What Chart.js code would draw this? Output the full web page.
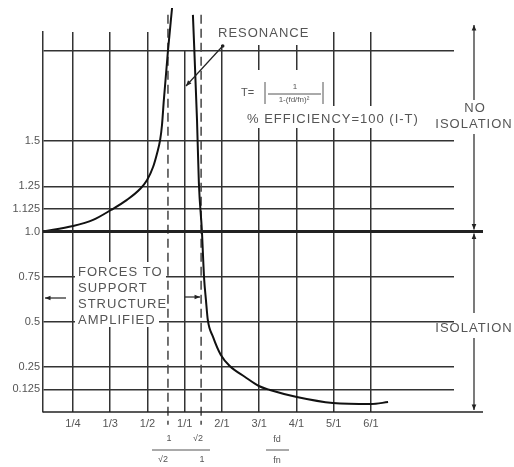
<!DOCTYPE html>
<html>
<head>
<meta charset="utf-8">
<script src="https://cdn.jsdelivr.net/npm/chart.js@4.4.0/dist/chart.umd.min.js"></script>
<style>
  html, body { margin: 0; padding: 0; background: #fff; }
  #wrap { width: 514px; height: 467px; }
</style>
</head>
<body>
<div id="wrap"><canvas id="transChart" width="514" height="467"></canvas></div>
<script>
// frequency ratio fd/fn, one grid column per label
const ratioLabels = ['1/4', '1/3', '1/2', '1/1', '2/1', '3/1', '4/1', '5/1', '6/1'];
// transmissibility grid lines
const tValues = [0.125, 0.25, 0.5, 0.75, 1.0, 1.125, 1.25, 1.5, 2.0];
const tLabels = ['0.125', '0.25', '0.5', '0.75', '1.0', '1.125', '1.25', '1.5', ''];

// curve below resonance (forces amplified), x measured in grid columns
const belowX = [-0.8, 0, 0.54, 1.02, 1.45, 1.8, 1.99, 2.15, 2.26, 2.34, 2.39, 2.44, 2.55, 2.66];
const belowT = [1.0, 1.03, 1.064, 1.119, 1.175, 1.235, 1.285, 1.357, 1.435, 1.507, 1.59, 1.729, 2.0, 2.238];
// curve above resonance (isolation)
const aboveX = [3.22, 3.33, 3.38, 3.46, 3.52, 3.57, 3.62, 3.76, 3.97, 4.21, 4.62, 4.99, 5.29, 6.01, 6.98, 8.0, 8.46];
const aboveT = [2.2, 1.618, 1.269, 1.008, 0.742, 0.62, 0.51, 0.416, 0.316, 0.255, 0.194, 0.144, 0.122, 0.083, 0.05, 0.044, 0.055];

// dashed limits at fd/fn = 1/√2 and √2/1
const limitX = [2.55, 3.44];
const limitT = [2.2, -0.07];

const FONT = '"Liberation Sans", Arial, sans-serif';
const INK = '#222';
const GREY = '#555';

function toPoints(xs, ys) {
  return xs.map((x, i) => ({ x: x, y: ys[i] }));
}

function arrow(ctx, x1, y1, x2, y2, size) {
  ctx.beginPath();
  ctx.moveTo(x1, y1);
  ctx.lineTo(x2, y2);
  ctx.stroke();
  const a = Math.atan2(y2 - y1, x2 - x1);
  ctx.beginPath();
  ctx.moveTo(x2, y2);
  ctx.lineTo(x2 - size * Math.cos(a - 0.4), y2 - size * Math.sin(a - 0.4));
  ctx.lineTo(x2 - size * Math.cos(a + 0.4), y2 - size * Math.sin(a + 0.4));
  ctx.closePath();
  ctx.fill();
}

function text(ctx, str, x, y, size, align, spacing) {
  ctx.font = size + 'px ' + FONT;
  ctx.letterSpacing = (spacing || 0) + 'px';
  ctx.textAlign = align || 'left';
  ctx.textBaseline = 'middle';
  ctx.fillText(str, x, y);
  ctx.letterSpacing = '0px';
}

const notes = {
  id: 'notes',
  beforeDatasetsDraw(chart) {
    const ctx = chart.ctx;
    ctx.save();
    ctx.fillStyle = '#fff';
    // breaks in the grid behind the lettering
    [[215, 22, 100, 23], [181, 30, 9, 20], [238, 70, 92, 36], [244, 106, 178, 22],
     [75, 262, 91, 54], [75, 314, 84, 13]].forEach(r => ctx.fillRect(r[0], r[1], r[2], r[3]));
    ctx.restore();
  },
  afterDatasetsDraw(chart) {
    const ctx = chart.ctx;
    const xs = chart.scales.x, ys = chart.scales.y;
    const area = chart.chartArea;
    const y1 = ys.getPixelForValue(1), y0 = ys.getPixelForValue(0);
    const rx = 474;
    ctx.save();
    ctx.strokeStyle = INK;
    ctx.fillStyle = INK;

    // heavy T = 1 line and base line
    ctx.lineWidth = 3;
    ctx.beginPath(); ctx.moveTo(area.left, y1); ctx.lineTo(483, y1); ctx.stroke();
    ctx.lineWidth = 1.5;
    ctx.beginPath(); ctx.moveTo(area.left, y0); ctx.lineTo(483, y0); ctx.stroke();

    // right hand range arrows
    ctx.lineWidth = 1.2;
    arrow(ctx, rx, 100, rx, 25, 6);
    arrow(ctx, rx, 134, rx, y1 - 2, 6);
    arrow(ctx, rx, 313, rx, y1 + 2, 6);
    arrow(ctx, rx, 338, rx, y0 - 2, 6);

    // resonance pointer
    arrow(ctx, xs.getPixelForValue(4.02), 46, 186, 86, 6);
    ctx.beginPath(); ctx.arc(xs.getPixelForValue(4.02), 46, 1.8, 0, Math.PI * 2); ctx.fill();

    // amplified range arrows
    arrow(ctx, 66, 298, 45, 298, 6);
    arrow(ctx, 185, 297, xs.getPixelForValue(limitX[1]) - 1, 297, 6);

    ctx.fillStyle = GREY;
    text(ctx, 'RESONANCE', 218, 33, 13, 'left', 1);
    text(ctx, 'NO', rx + 1, 108, 13, 'center', 1);
    text(ctx, 'ISOLATION', rx, 124, 13, 'center', 1);
    text(ctx, 'ISOLATION', rx, 328, 13, 'center', 1);
    ['FORCES TO', 'SUPPORT', 'STRUCTURE', 'AMPLIFIED'].forEach((s, i) => text(ctx, s, 78, 272 + i * 16, 13, 'left', 1));

    // formula
    text(ctx, 'T=', 241, 93, 11);
    ctx.strokeStyle = GREY;
    ctx.lineWidth = 1;
    ctx.beginPath();
    ctx.moveTo(265, 82); ctx.lineTo(265, 104);
    ctx.moveTo(323, 82); ctx.lineTo(323, 104);
    ctx.moveTo(268, 94); ctx.lineTo(321, 94);
    ctx.stroke();
    text(ctx, '1', 295, 87, 8, 'center');
    text(ctx, '1-(fd/fn)²', 294, 100, 8, 'center');
    text(ctx, '% EFFICIENCY=100 (I-T)', 247, 119, 13, 'left', 1);

    // fractions under the axis
    text(ctx, '1', 169, 439, 9, 'center');
    text(ctx, '√2', 198, 439, 9, 'center');
    text(ctx, '√2', 163, 460, 9, 'center');
    text(ctx, '1', 202, 460, 9, 'center');
    text(ctx, 'fd', 277, 440, 9, 'center');
    text(ctx, 'fn', 277, 461, 9, 'center');
    ctx.beginPath();
    ctx.moveTo(152, 450); ctx.lineTo(210, 450);
    ctx.moveTo(266, 450); ctx.lineTo(289, 450);
    ctx.stroke();
    ctx.restore();
  }
};

const curveStyle = {
  borderColor: '#111',
  borderWidth: 2,
  pointRadius: 0,
  cubicInterpolationMode: 'monotone',
  clip: false
};
const limitStyle = {
  borderColor: '#444',
  borderWidth: 1.5,
  borderDash: [9, 5],
  pointRadius: 0,
  clip: false
};

new Chart(document.getElementById('transChart'), {
  type: 'line',
  data: {
    datasets: [
      Object.assign({ data: toPoints(belowX, belowT) }, curveStyle),
      Object.assign({ data: toPoints(aboveX, aboveT) }, curveStyle),
      Object.assign({ data: toPoints([limitX[0], limitX[0]], limitT) }, limitStyle),
      Object.assign({ data: toPoints([limitX[1], limitX[1]], limitT) }, limitStyle)
    ]
  },
  options: {
    responsive: false,
    animation: false,
    layout: { padding: { top: 32, right: 60, left: 0, bottom: 0 } },
    plugins: { legend: { display: false }, tooltip: { enabled: false } },
    scales: {
      x: {
        type: 'linear',
        min: -0.805,
        max: 10.23,
        afterBuildTicks: s => { s.ticks = ratioLabels.map((_, i) => ({ value: i })); },
        afterFit: s => { s.height = 55; },
        ticks: {
          autoSkip: false,
          maxRotation: 0,
          padding: 5,
          color: GREY,
          font: { family: FONT, size: 11 },
          callback: v => ratioLabels[v]
        },
        grid: { color: '#333', lineWidth: 1.5, drawTicks: false },
        border: { display: false }
      },
      y: {
        type: 'linear',
        min: 0,
        max: 2.105,
        afterBuildTicks: s => { s.ticks = tValues.map(v => ({ value: v })); },
        afterFit: s => { s.width = 43; },
        ticks: {
          padding: 3,
          color: GREY,
          font: { family: FONT, size: 11 },
          callback: (v, i) => tLabels[i]
        },
        grid: { color: '#333', lineWidth: 1.5, drawTicks: false },
        border: { display: true, color: '#333', width: 1.5 }
      }
    }
  },
  plugins: [notes]
});
</script>
</body>
</html>
